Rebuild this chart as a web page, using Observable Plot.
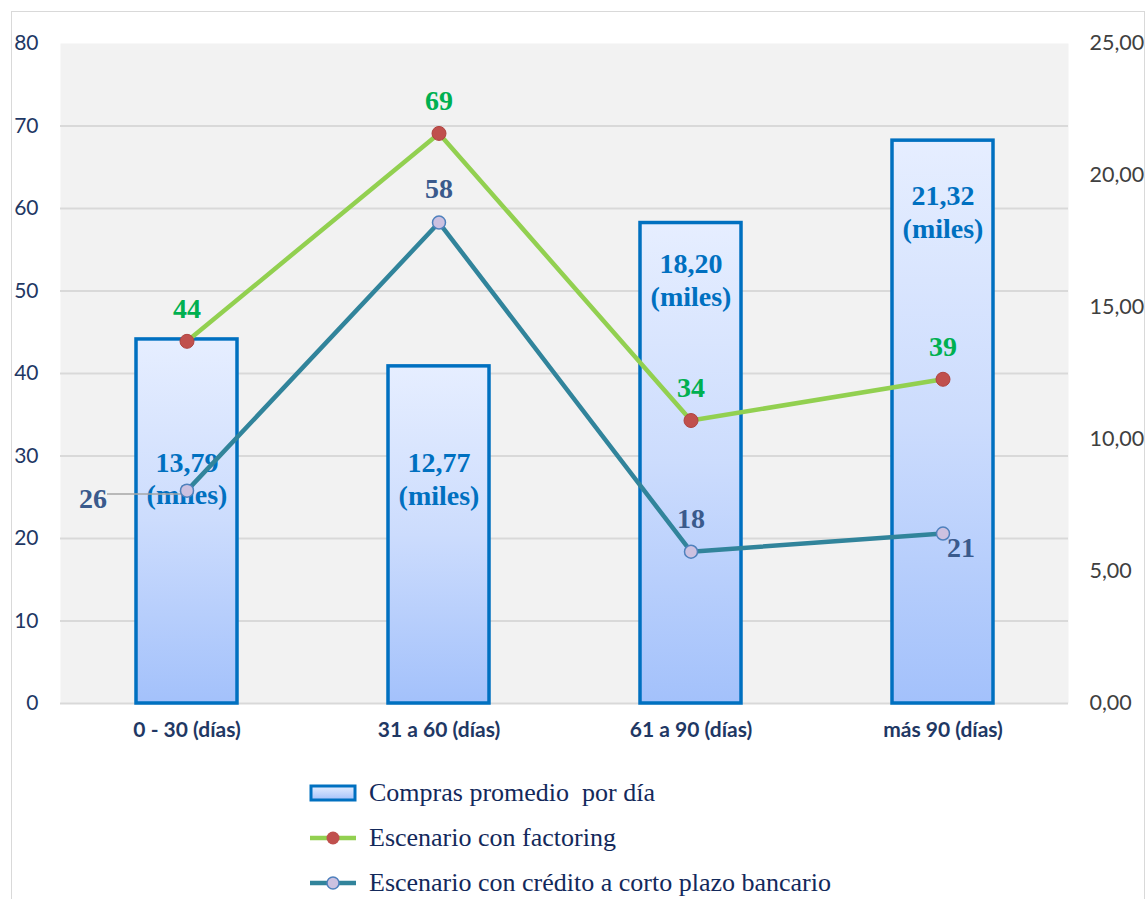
<!DOCTYPE html>
<html>
<head>
<meta charset="utf-8">
<script src="https://cdn.jsdelivr.net/npm/d3@7"></script>
<script src="https://cdn.jsdelivr.net/npm/@observablehq/plot@0.6"></script>
<style>
  html, body { margin: 0; padding: 0; background: #ffffff; }
  #wrap { position: relative; width: 1147px; height: 899px; overflow: hidden; }
  #border { position: absolute; left: 11px; top: 11px; width: 1134px; height: 900px; border: 1px solid #d9d9d9; box-sizing: border-box; pointer-events: none; }
  #legend { position: absolute; left: 309px; top: 770px; font-family: "Liberation Serif", "Times New Roman", serif; font-size: 26px; color: #13295b; }
  .row { display: flex; align-items: center; height: 45px; white-space: pre; }
  .row svg { margin-right: 12px; }
</style>
</head>
<body>
<div id="wrap">
  <div id="chart"></div>
  <div id="border"></div>
  <div id="legend"></div>
</div>
<script>
const categories = ["0 - 30 (días)", "31 a 60 (días)", "61 a 90 (días)", "más 90 (días)"];
const compras = [13.79, 12.77, 18.20, 21.32];          // right axis (miles)
const factoring = [43.9, 69.1, 34.3, 39.3];            // left axis
const credito = [25.8, 58.3, 18.4, 20.6];              // left axis
const leftTicks = [0, 10, 20, 30, 40, 50, 60, 70, 80];
const rightTicks = [0, 5, 10, 15, 20, 25];
const seriesNames = ["Compras promedio  por día", "Escenario con factoring", "Escenario con crédito a corto plazo bancario"];

const ratio = 80 / 25;
const rows = categories.map((c, i) => ({cat: c, idx: i, compras: compras[i], fac: factoring[i], cred: credito[i]}));
const fmt2 = v => v.toFixed(2).replace(".", ",");
const serif = "Liberation Serif";
const barLabelDy = [138, 112, 56, 70];

const barLabel = (i) => Plot.text(rows, {
  filter: d => d.idx === i,
  x: "cat", y: d => d.compras * ratio,
  text: d => fmt2(d.compras) + "\n(miles)",
  dy: barLabelDy[i], lineAnchor: "middle", lineHeight: 1.17,
  fill: "#0070c0", fontFamily: serif, fontWeight: "bold", fontSize: 28
});

const chart = Plot.plot({
  width: 1147, height: 760,
  marginLeft: 60, marginRight: 79, marginTop: 43, marginBottom: 57,
  style: {fontFamily: "Lato", background: "transparent", overflow: "visible"},
  x: {type: "band", domain: categories, paddingInner: 0.6, paddingOuter: 0.3, label: null},
  y: {domain: [0, 80], label: null},
  marks: [
    Plot.frame({fill: "#f2f2f2", stroke: null}),
    Plot.gridY(leftTicks.filter(t => t < 80), {stroke: "#d9d9d9", strokeOpacity: 1, strokeWidth: 2}),
    Plot.axisY(leftTicks, {anchor: "left", tickSize: 0, tickPadding: 22, fontSize: 21, color: "#1f3864", label: null}),
    Plot.axisY(rightTicks.map(t => t * ratio), {anchor: "right", tickSize: 0, tickPadding: 21, fontSize: 21.5, color: "#404040", label: null, tickFormat: v => fmt2(v / ratio)}),
    Plot.axisX({tickSize: 0, tickPadding: 19, fontSize: 21, fontWeight: "bold", color: "#1f3864", label: null}),
    Plot.barY(rows, {x: "cat", y: d => d.compras * ratio, fill: "url(#barGrad)", stroke: "#0070c0", strokeWidth: 3.5}),
    barLabel(0), barLabel(1), barLabel(2), barLabel(3),
    Plot.line(rows, {x: "cat", y: "fac", stroke: "#92d050", strokeWidth: 4.5}),
    Plot.line(rows, {x: "cat", y: "cred", stroke: "#31849b", strokeWidth: 4.5}),
    Plot.tickY(rows.filter(d => d.idx === 0), {x: "cat", y: d => d.cred - 0.4, dx: -29, insetRight: 22, stroke: "#a6a6a6", strokeWidth: 1.5}),
    Plot.dot(rows, {x: "cat", y: "fac", r: 7, fill: "#c0504d", stroke: "#b04440", strokeWidth: 1}),
    Plot.dot(rows, {x: "cat", y: "cred", r: 6.5, fill: "#ccc1e0", stroke: "#4f81bd", strokeWidth: 1.5}),
    Plot.text(rows, {x: "cat", y: "fac", text: d => String(Math.round(d.fac)), dy: -32, fill: "#00b050", fontFamily: serif, fontWeight: "bold", fontSize: 28}),
    Plot.text(rows.filter(d => d.idx === 1 || d.idx === 2), {x: "cat", y: "cred", text: d => String(Math.round(d.cred)), dy: -33, fill: "#3a5a8c", fontFamily: serif, fontWeight: "bold", fontSize: 28}),
    Plot.text(rows.filter(d => d.idx === 0), {x: "cat", y: "cred", text: d => String(Math.round(d.cred)), dx: -94, dy: 8, fill: "#3a5a8c", fontFamily: serif, fontWeight: "bold", fontSize: 28}),
    Plot.text(rows.filter(d => d.idx === 3), {x: "cat", y: "cred", text: d => String(Math.round(d.cred)), dx: 18, dy: 14, fill: "#3a5a8c", fontFamily: serif, fontWeight: "bold", fontSize: 28})
  ]
});

// gradient definition for bars
const ns = "http://www.w3.org/2000/svg";
function addGradient(svg, id) {
  const defs = document.createElementNS(ns, "defs");
  const lg = document.createElementNS(ns, "linearGradient");
  lg.setAttribute("id", id);
  lg.setAttribute("x1", "0"); lg.setAttribute("y1", "0");
  lg.setAttribute("x2", "0"); lg.setAttribute("y2", "1");
  [["0%", "#e6eeff"], ["50%", "#ccdcfd"], ["100%", "#a3c1fb"]].forEach(([o, c]) => {
    const s = document.createElementNS(ns, "stop");
    s.setAttribute("offset", o); s.setAttribute("stop-color", c);
    lg.appendChild(s);
  });
  defs.appendChild(lg);
  svg.insertBefore(defs, svg.firstChild);
}
addGradient(chart, "barGrad");
document.getElementById("chart").appendChild(chart);

// legend
const legend = document.getElementById("legend");
const icons = [
  `<svg width="48" height="20"><defs><linearGradient id="lgGrad" x1="0" y1="0" x2="0" y2="1"><stop offset="0%" stop-color="#e6eeff"/><stop offset="100%" stop-color="#a3c1fb"/></linearGradient></defs><rect x="2" y="3" width="44" height="14" fill="url(#lgGrad)" stroke="#0070c0" stroke-width="3"/></svg>`,
  `<svg width="48" height="20"><line x1="1" y1="10" x2="47" y2="10" stroke="#92d050" stroke-width="4.5"/><circle cx="24" cy="10" r="6.5" fill="#c0504d"/></svg>`,
  `<svg width="48" height="20"><line x1="1" y1="10" x2="47" y2="10" stroke="#31849b" stroke-width="4.5"/><circle cx="24" cy="10" r="6" fill="#ccc1e0" stroke="#4f81bd" stroke-width="1.5"/></svg>`
];
seriesNames.forEach((name, i) => {
  const row = document.createElement("div");
  row.className = "row";
  row.innerHTML = icons[i];
  const span = document.createElement("span");
  span.textContent = name;
  row.appendChild(span);
  legend.appendChild(row);
});
</script>
</body>
</html>
